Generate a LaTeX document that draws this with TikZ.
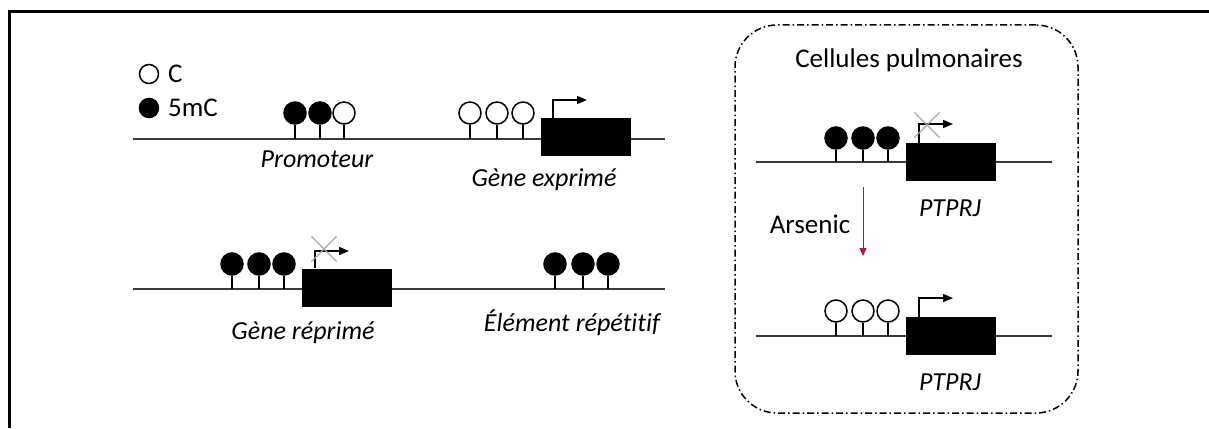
\documentclass[tikz,border=0pt]{standalone}
\usepackage{fontspec}
\setmainfont{Carlito}[Ligatures=NoCommon]
\usepackage{tikz}
\usetikzlibrary{arrows.meta,shapes.misc}
\definecolor{DnaGray}{HTML}{3a3a3a}
\definecolor{CrossGray}{HTML}{a8a8a8}
\definecolor{ArsRed}{HTML}{a8173e}
\tikzstyle{cpg} = [circle, draw=black, line width=1.5pt, minimum size=22pt, inner sep=0pt]
\tikzstyle{mc} = [cpg, fill=black]
\tikzstyle{uc} = [cpg, fill=white]
\tikzstyle{gene} = [rectangle, fill=black, minimum width=90pt, minimum height=38pt, inner sep=0pt]
\tikzstyle{lbl} = [font=\fontsize{26}{31}\selectfont\itshape, inner sep=0pt]
\tikzstyle{txt} = [font=\fontsize{27}{32}\selectfont, inner sep=0pt]
\tikzstyle{stem} = [line width=1.2pt]
\tikzstyle{dna} = [line width=1.4pt, draw=DnaGray]
\tikzstyle{tss} = [line width=1.4pt, -{Triangle[length=10pt,width=8pt]}]
\tikzstyle{nogo} = [cross out, draw=CrossGray, line width=1.2pt, minimum size=24pt, inner sep=0pt]
\tikzset{x=1pt, y=-1pt}

\begin{document}
\begin{tikzpicture}
\useasboundingbox (0,0) rectangle (1209,428);
\draw[line width=3pt] (9,428) -- (9,12) -- (1209,12);
% legend
\node[uc, minimum size=19pt] (legc) at (149,74) {};
\node[mc, minimum size=19pt] (legm) at (149,108) {};
\node[txt, anchor=west] (legctxt) at (168,74) {C};
\node[txt, anchor=west] (legmtxt) at (168,108) {5mC};
% promoteur + gene exprime
\coordinate (dnaAl) at (133,139);
\coordinate (dnaAr) at (665,139);
\draw[dna] (dnaAl) -- (dnaAr);
\node[mc] (pa1) at (295,113) {};
\node[mc] (pa2) at (320,113) {};
\node[uc] (pa3) at (344,113) {};
\node[uc] (pb1) at (470,113) {};
\node[uc] (pb2) at (497,113) {};
\node[uc] (pb3) at (523,113) {};
\foreach \p in {pa1,pa2,pa3,pb1,pb2,pb3}
  \draw[stem] (\p) -- (\p |- dnaAl);
\node[gene] (geneb) at (586,137) {};
\coordinate (tssb) at (553,118);
\coordinate (tssbe) at (587,100);
\draw[tss] (tssb) |- (tssbe);
\node[lbl] (prom) at (317,159) {Promoteur};
\node[lbl] (expr) at (544,180) {Gène exprimé};
% gene reprime + element repetitif
\coordinate (dnaCl) at (133,289);
\coordinate (dnaCr) at (665,289);
\draw[dna] (dnaCl) -- (dnaCr);
\node[mc] (pc1) at (232,264) {};
\node[mc] (pc2) at (259,264) {};
\node[mc] (pc3) at (284,264) {};
\node[mc] (pd1) at (555,264) {};
\node[mc] (pd2) at (583,264) {};
\node[mc] (pd3) at (608,264) {};
\foreach \p in {pc1,pc2,pc3,pd1,pd2,pd3}
  \draw[stem] (\p) -- (\p |- dnaCl);
\node[gene] (genec) at (347,288) {};
\coordinate (tssc) at (315,268);
\coordinate (tssce) at (349,251);
\draw[tss] (tssc) |- (tssce);
\node[nogo] (xc) at (324,249) {};
\node[lbl] (repr) at (303,333) {Gène réprimé};
\node[lbl] (rep) at (572,323) {Élément répétitif};
% cellules pulmonaires
\node[draw, line width=1.5pt, dash pattern=on 7pt off 3pt on 1.5pt off 3pt, rounded corners=42pt,
  minimum width=343pt, minimum height=388pt] (cell) at (906.5,219) {};
\node[txt] (celltxt) at (909,60) {Cellules pulmonaires};
\coordinate (dnaEl) at (756,162);
\coordinate (dnaEr) at (1052,162);
\draw[dna] (dnaEl) -- (dnaEr);
\node[mc] (pe1) at (836,138) {};
\node[mc] (pe2) at (863,138) {};
\node[mc] (pe3) at (888,138) {};
\foreach \p in {pe1,pe2,pe3}
  \draw[stem] (\p) -- (\p |- dnaEl);
\node[gene] (genee) at (951,162) {};
\coordinate (tsse) at (919,143);
\coordinate (tssee) at (953,124);
\draw[tss] (tsse) |- (tssee);
\node[nogo] (xe) at (927,125) {};
\node[lbl] (ptprja) at (950,208) {PTPRJ};
\coordinate (arsa) at (863,187);
\coordinate (arsb) at (863,256);
\draw[ArsRed, line width=1pt, -{Triangle[length=8pt,width=7pt]}] (arsa) -- (arsb);
\node[txt] (ars) at (810,224) {Arsenic};
\coordinate (dnaFl) at (756,336);
\coordinate (dnaFr) at (1052,336);
\draw[dna] (dnaFl) -- (dnaFr);
\node[uc] (pf1) at (836,311) {};
\node[uc] (pf2) at (863,311) {};
\node[uc] (pf3) at (888,311) {};
\foreach \p in {pf1,pf2,pf3}
  \draw[stem] (\p) -- (\p |- dnaFl);
\node[gene] (genef) at (951,336) {};
\coordinate (tssf) at (919,317);
\coordinate (tssfe) at (953,298);
\draw[tss] (tssf) |- (tssfe);
\node[lbl] (ptprjb) at (950,382) {PTPRJ};
\end{tikzpicture}
\end{document}
